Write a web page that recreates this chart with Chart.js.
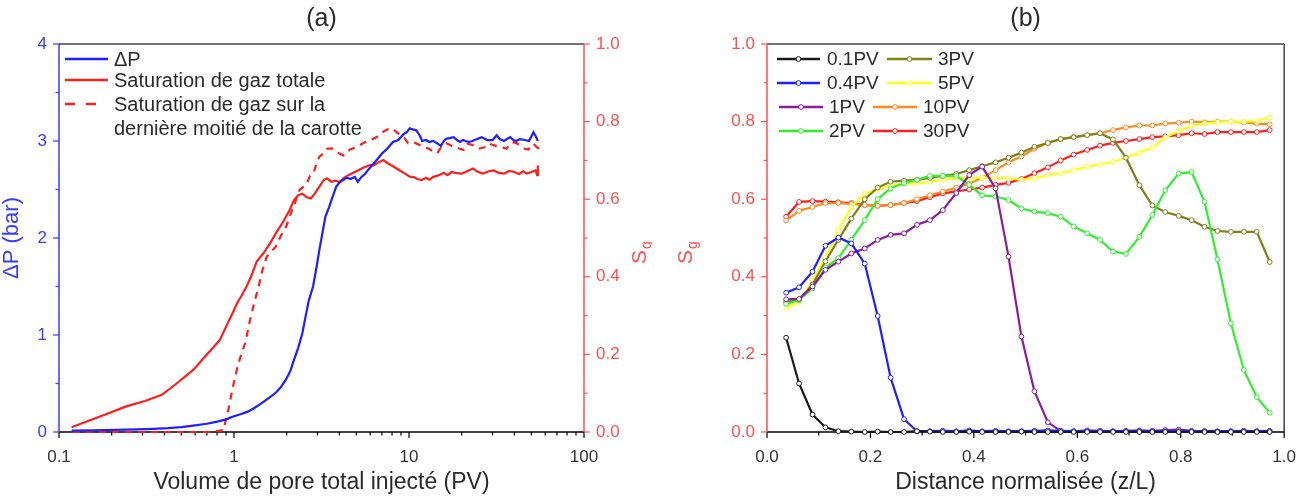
<!DOCTYPE html>
<html><head><meta charset="utf-8">
<script src="https://cdn.jsdelivr.net/npm/chart.js@4.4.1/dist/chart.umd.min.js"></script>
<style>
html,body{margin:0;padding:0;background:#fff;}
#wrap{position:relative;width:1305px;height:496px;overflow:hidden;background:#fff;}
#ca{position:absolute;left:0;top:0;}
#cb{position:absolute;left:652px;top:0;}
</style></head><body>
<div id="wrap"><canvas id="ca" width="652" height="496"></canvas><canvas id="cb" width="653" height="496"></canvas></div>
<script>
// ---------- Panel (a) data ----------
const dpX = [0.118,0.16,0.242,0.32,0.42,0.5,0.585,0.7,0.814,0.9,0.99,1.1,1.2,1.3,1.42,1.55,1.72,1.85,1.98,2.1,2.2,2.33,2.46,2.57,2.68,2.83,2.95,3.07,3.2,3.33,3.5,3.65,3.84,4.0,4.13,4.4,4.65,4.9,5.1,5.35,5.6,5.95,6.3,6.65,7.0,7.5,8.1,8.7,9.3,9.7,10.1,10.5,11.0,11.5,11.9,12.5,13.1,13.7,14.4,15.2,15.7,16.2,17.0,18.0,18.8,19.6,20.3,21.0,22.0,23.0,24.5,26.0,28.0,30.0,31.7,33.0,34.9,36.3,37.9,39.5,40.9,43.0,45.8,48.5,51.4,53.0,54.5];
const dpY = [0.014,0.018,0.024,0.03,0.04,0.05,0.065,0.085,0.11,0.13,0.16,0.185,0.21,0.245,0.29,0.34,0.40,0.46,0.54,0.63,0.74,0.87,1.02,1.2,1.36,1.5,1.68,1.87,2.05,2.22,2.32,2.42,2.53,2.57,2.59,2.62,2.61,2.63,2.58,2.63,2.66,2.72,2.77,2.82,2.87,2.92,2.99,3.01,3.07,3.09,3.13,3.12,3.11,3.06,3.0,3.01,2.99,3.0,2.98,2.95,2.99,3.02,3.03,3.04,3.01,2.99,3.01,3.0,2.99,3.0,3.02,3.04,3.01,3.01,3.06,3.02,3.0,3.02,3.04,3.01,3.0,3.02,3.01,3.0,3.09,3.05,3.0];

const sgTotX = [0.118,0.184,0.242,0.31,0.387,0.47,0.585,0.7,0.83,0.92,0.99,1.05,1.1,1.18,1.25,1.35,1.47,1.6,1.75,1.9,2.08,2.2,2.32,2.46,2.6,2.75,2.9,3.05,3.25,3.39,3.6,3.8,4.0,4.25,4.5,4.8,5.1,5.4,5.6,6.0,6.3,6.7,7.13,7.6,8.1,8.5,9.0,9.5,10.1,10.6,11.2,11.8,12.5,13.1,13.7,14.4,15.0,15.8,16.6,17.5,18.7,20.1,21.5,23.2,24.8,26.5,28.5,30.5,32.5,35.0,37.5,40.0,42.5,45.0,47.0,50.0,52.8,54.0,54.5];
const sgTotY = [0.012,0.045,0.066,0.08,0.096,0.125,0.16,0.2,0.237,0.28,0.31,0.335,0.35,0.375,0.4,0.44,0.46,0.485,0.515,0.54,0.572,0.597,0.61,0.614,0.605,0.602,0.615,0.63,0.649,0.654,0.645,0.648,0.644,0.655,0.662,0.668,0.674,0.68,0.683,0.688,0.687,0.695,0.701,0.692,0.685,0.679,0.672,0.666,0.658,0.657,0.652,0.649,0.655,0.65,0.657,0.66,0.663,0.668,0.662,0.67,0.667,0.666,0.672,0.679,0.67,0.666,0.672,0.674,0.668,0.666,0.673,0.67,0.665,0.672,0.666,0.67,0.674,0.662,0.687];

const sgHalfX = [0.12,0.25,0.5,0.75,0.87,0.93,0.99,1.05,1.1,1.16,1.23,1.3,1.38,1.46,1.54,1.63,1.73,1.85,1.99,2.11,2.23,2.37,2.46,2.6,2.72,2.85,2.95,3.07,3.24,3.4,3.63,3.9,4.22,4.6,5.04,5.5,6.0,6.58,7.0,7.6,8.0,8.5,8.9,9.4,9.9,10.6,11.5,12.2,13.0,13.8,14.5,15.3,16.4,17.5,18.5,19.5,20.5,21.5,23.0,25.0,27.7,28.8,31.0,34.0,36.0,39.0,41.4,44.0,45.8,48.0,51.4,53.5,54.8,55.0];
const sgHalfY = [0,0,0,0,0.005,0.06,0.12,0.17,0.2,0.23,0.285,0.33,0.374,0.42,0.452,0.465,0.477,0.505,0.53,0.563,0.59,0.624,0.63,0.64,0.66,0.667,0.69,0.709,0.718,0.73,0.731,0.72,0.713,0.728,0.735,0.745,0.752,0.761,0.772,0.781,0.783,0.773,0.765,0.758,0.744,0.747,0.74,0.734,0.73,0.722,0.718,0.735,0.744,0.738,0.734,0.73,0.727,0.743,0.74,0.73,0.735,0.743,0.738,0.734,0.73,0.747,0.744,0.735,0.73,0.728,0.743,0.735,0.731,0.722];

const aXTicks = [0.1, 1, 10, 100];
const aYTicks = [0, 1, 2, 3, 4];
const aY2Ticks = [0, 0.2, 0.4, 0.6, 0.8, 1.0];

// ---------- Panel (b) data ----------
const zPos = [0.037,0.062,0.088,0.113,0.138,0.163,0.189,0.214,0.239,0.265,0.290,0.315,0.340,0.366,0.391,0.416,0.442,0.467,0.492,0.517,0.543,0.568,0.593,0.619,0.644,0.669,0.694,0.720,0.745,0.770,0.796,0.821,0.846,0.871,0.897,0.922,0.947,0.972];
const pv01 = [0.243,0.125,0.045,0.012,0.002,0.001,0,0.001,0,0,0.002,0.001,0,0,0.001,0,0,0,0.001,0,0,0,0,0,0,0,0,0,0,0,0,0,0,0,0,0,0,0];
const pv04 = [0.359,0.373,0.413,0.48,0.501,0.486,0.434,0.299,0.14,0.033,0.002,0.002,0.003,0.002,0.004,0.002,0.003,0.002,0.002,0.003,0.004,0.003,0.002,0.002,0.002,0.002,0.002,0.002,0.002,0.002,0.002,0.002,0.002,0.002,0.002,0.002,0.002,0.002];
const pv1  = [0.342,0.343,0.375,0.418,0.439,0.46,0.473,0.495,0.508,0.512,0.534,0.546,0.572,0.616,0.662,0.684,0.628,0.452,0.246,0.105,0.025,0.003,0.002,0.004,0.003,0.002,0.003,0.004,0.003,0.005,0.006,0.003,0.002,0.001,0.002,0.003,0.002,0.003];
const pv2  = [0.33,0.34,0.37,0.423,0.448,0.495,0.546,0.6,0.628,0.641,0.65,0.66,0.66,0.66,0.637,0.61,0.607,0.598,0.576,0.568,0.564,0.555,0.53,0.512,0.495,0.465,0.459,0.503,0.559,0.623,0.666,0.67,0.593,0.445,0.28,0.16,0.09,0.05];
const pv3  = [0.335,0.34,0.38,0.44,0.495,0.55,0.6,0.63,0.645,0.648,0.65,0.655,0.66,0.665,0.675,0.685,0.695,0.707,0.72,0.735,0.745,0.755,0.76,0.765,0.77,0.754,0.707,0.636,0.584,0.567,0.557,0.546,0.529,0.518,0.516,0.516,0.516,0.438];
const pv5  = [0.32,0.335,0.39,0.45,0.52,0.58,0.615,0.625,0.635,0.64,0.64,0.645,0.65,0.655,0.655,0.655,0.655,0.654,0.65,0.654,0.662,0.667,0.675,0.684,0.69,0.696,0.707,0.72,0.733,0.759,0.776,0.789,0.795,0.798,0.8,0.8,0.802,0.81];
const pv10 = [0.545,0.57,0.58,0.59,0.59,0.588,0.585,0.583,0.585,0.59,0.6,0.61,0.62,0.63,0.64,0.655,0.675,0.695,0.71,0.73,0.745,0.755,0.76,0.765,0.77,0.778,0.785,0.79,0.79,0.795,0.797,0.8,0.798,0.8,0.8,0.798,0.795,0.793];
const pv30 = [0.555,0.593,0.595,0.594,0.592,0.59,0.585,0.583,0.585,0.59,0.595,0.605,0.615,0.62,0.625,0.63,0.637,0.642,0.652,0.667,0.682,0.70,0.715,0.727,0.738,0.745,0.75,0.755,0.76,0.762,0.765,0.77,0.768,0.773,0.773,0.773,0.773,0.778];
const bLabels = ['0.1PV','0.4PV','1PV','2PV','3PV','5PV','10PV','30PV'];
const bTicks = [0, 0.2, 0.4, 0.6, 0.8, 1.0];

// ---------- styling ----------
const FONT = '"Liberation Sans", Arial, Helvetica, sans-serif';
Chart.defaults.font.family = FONT;
const BLUE = '#1e1eff', RED = '#ff1e1e', AXRED = '#ff5050', AXBLUE = '#3a3aff', TXT = '#2a2a2a';
const bColors = ['#1a1a1a','#1f1fff','#8b1c9c','#2ef02e','#80801a','#ffff1a','#ff8a1f','#ff1e1e'];
const bSeries = [pv01, pv04, pv1, pv2, pv3, pv5, pv10, pv30];

function pts(xs, ys){ return xs.map((x,i)=>({x:x, y:ys[i]})); }
function line(ctx, x1,y1,x2,y2,color,w){ ctx.save(); ctx.strokeStyle=color; ctx.lineWidth=w; ctx.beginPath(); ctx.moveTo(x1,y1); ctx.lineTo(x2,y2); ctx.stroke(); ctx.restore(); }
function text(ctx, s, x, y, font, color, align, base){ ctx.save(); ctx.font=font; ctx.fillStyle=color; ctx.textAlign=align||'left'; ctx.textBaseline=base||'middle'; ctx.fillText(s,x,y); ctx.restore(); }
function rotText(ctx, s, cx, cy, font, color){ ctx.save(); ctx.translate(cx,cy); ctx.rotate(-Math.PI/2); ctx.font=font; ctx.fillStyle=color; ctx.textAlign='center'; ctx.textBaseline='middle'; ctx.fillText(s,0,0); ctx.restore(); }
function sgTitle(ctx, baseX, bottomY, color){
  ctx.save(); ctx.translate(baseX, bottomY); ctx.rotate(-Math.PI/2);
  ctx.fillStyle=color; ctx.textBaseline='alphabetic'; ctx.textAlign='left';
  ctx.font='21px '+FONT; ctx.fillText('S',0,0);
  const w = ctx.measureText('S').width;
  ctx.font='14px '+FONT; ctx.fillText('g', w+1, 5);
  ctx.restore();
}

const noGrid = {display:false, drawTicks:true, tickLength:6};

// ---------- Chart (a) ----------
const frameA = {
  id:'frameA',
  beforeDatasetsDraw(chart){
    const ctx=chart.ctx, ca=chart.chartArea, sx=chart.scales.x, sy=chart.scales.y, sy2=chart.scales.y2;
    line(ctx, ca.left, ca.top, ca.right, ca.top, '#444', 1.5);
    line(ctx, ca.left, ca.bottom, ca.right, ca.bottom, '#000', 1.5);
    line(ctx, ca.left, ca.top, ca.left, ca.bottom, AXBLUE, 1.5);
    line(ctx, ca.right, ca.top, ca.right, ca.bottom, AXRED, 1.5);
    [0.1,1,10].forEach(d=>{ for(let k=1;k<=9;k++){ const px=sx.getPixelForValue(d*k); line(ctx,px,ca.bottom,px,ca.bottom+(k===1?6:3.5),'#000',1.2);} });
    const p100=sx.getPixelForValue(100); line(ctx,p100,ca.bottom,p100,ca.bottom+6,'#000',1.2);
    for(let i=0;i<=8;i++){ const v=i*0.5, py=sy.getPixelForValue(v); line(ctx,ca.left-(i%2===0?6:3.5),py,ca.left,py,AXBLUE,1.2); }
    for(let i=0;i<=10;i++){ const v=i*0.1, py=sy2.getPixelForValue(v); line(ctx,ca.right,py,ca.right+(i%2===0?6:3.5),py,AXRED,1.2); }
  },
  afterDraw(chart){
    const ctx=chart.ctx, ca=chart.chartArea;
    const cx=(ca.left+ca.right)/2;
    text(ctx,'(a)',cx,19,'25px '+FONT,TXT,'center');
    text(ctx,'Volume de pore total injecté (PV)',cx,483,'23px '+FONT,TXT,'center');
    rotText(ctx,'ΔP (bar)',12,238,'22px '+FONT,AXBLUE);
    sgTitle(ctx,646,264,AXRED);
    // legend
    const f='20px '+FONT;
    line(ctx,65,59,108,59,BLUE,2.5); text(ctx,'ΔP',114,60,f,TXT);
    line(ctx,65,80,108,80,RED,2.5); text(ctx,'Saturation de gaz totale',114,81,f,TXT);
    line(ctx,65,104,75,104,RED,2.5); line(ctx,86,104,96,104,RED,2.5);
    text(ctx,'Saturation de gaz sur la',114,105,f,TXT);
    text(ctx,'dernière moitié de la carotte',114,129,f,TXT);
  }
};

new Chart(document.getElementById('ca'), {
  type:'line',
  data:{ datasets:[
    {label:'ΔP', data:pts(dpX,dpY), yAxisID:'y', borderColor:BLUE, borderWidth:2.2, pointRadius:0, tension:0, fill:false, clip:false},
    {label:'Saturation de gaz totale', data:pts(sgTotX,sgTotY), yAxisID:'y2', borderColor:RED, borderWidth:2.2, pointRadius:0, tension:0, fill:false, clip:false},
    {label:'Saturation de gaz sur la dernière moitié de la carotte', data:pts(sgHalfX,sgHalfY), yAxisID:'y2', borderColor:RED, borderWidth:2.2, borderDash:[7,6], pointRadius:0, tension:0, fill:false, clip:false}
  ]},
  options:{
    responsive:false, animation:false, events:[],
    layout:{padding:{top:44,left:0,right:0,bottom:0}},
    plugins:{legend:{display:false}, title:{display:false}, tooltip:{enabled:false}},
    scales:{
      x:{type:'logarithmic', min:0.1, max:100, grid:noGrid, border:{display:false},
         afterBuildTicks:s=>{ s.ticks=aXTicks.map(v=>({value:v})); },
         afterFit:s=>{ s.height=64; },
         ticks:{autoSkip:false, maxRotation:0, padding:9, color:'#333', font:{size:17}, callback:v=>String(v)}},
      y:{type:'linear', position:'left', min:0, max:4, grid:noGrid, border:{display:false},
         afterBuildTicks:s=>{ s.ticks=aYTicks.map(v=>({value:v})); },
         afterFit:s=>{ s.width=59; },
         ticks:{padding:6, color:AXBLUE, font:{size:17}, callback:v=>String(v)}},
      y2:{type:'linear', position:'right', min:0, max:1, grid:noGrid, border:{display:false},
         afterBuildTicks:s=>{ s.ticks=aY2Ticks.map(v=>({value:v})); },
         afterFit:s=>{ s.width=68; },
         ticks:{padding:6, color:AXRED, font:{size:17}, callback:v=>Number(v).toFixed(1)}}
    }
  },
  plugins:[frameA]
});

// ---------- Chart (b) ----------
const OFF = 652;
const frameB = {
  id:'frameB',
  beforeDatasetsDraw(chart){
    const ctx=chart.ctx, ca=chart.chartArea, sx=chart.scales.x, sy=chart.scales.y;
    line(ctx, ca.left, ca.top, ca.right, ca.top, '#444', 1.5);
    line(ctx, ca.right, ca.top, ca.right, ca.bottom, '#444', 1.5);
    line(ctx, ca.left, ca.bottom, ca.right, ca.bottom, '#000', 1.5);
    line(ctx, ca.left, ca.top, ca.left, ca.bottom, AXRED, 1.5);
    for(let i=0;i<=10;i++){ const v=i*0.1, px=sx.getPixelForValue(v); line(ctx,px,ca.bottom,px,ca.bottom+(i%2===0?6:3.5),'#000',1.2); }
    for(let i=0;i<=10;i++){ const v=i*0.1, py=sy.getPixelForValue(v); line(ctx,ca.left-(i%2===0?6:3.5),py,ca.left,py,AXRED,1.2); }
  },
  afterDraw(chart){
    const ctx=chart.ctx, ca=chart.chartArea;
    const cx=(ca.left+ca.right)/2;
    text(ctx,'(b)',cx,19,'25px '+FONT,TXT,'center');
    text(ctx,'Distance normalisée (z/L)',cx,483,'23px '+FONT,TXT,'center');
    sgTitle(ctx,692-OFF,264,AXRED);
    // legend (two columns)
    const f='19px '+FONT;
    const rows=[59,83,107,131];
    const col1=[[777,820,827],[777,820,827],[779,823,829],[779,823,829]];
    const col2=[[887,932,938],[887,932,938],[873,917,923],[873,917,923]];
    const entry=(i,spec,y)=>{
      const x1=spec[0]-OFF, x2=spec[1]-OFF, tx=spec[2]-OFF;
      line(ctx,x1,y,x2,y,bColors[i],2.5);
      ctx.save(); ctx.beginPath(); ctx.arc((x1+x2)/2,y,2.4,0,Math.PI*2); ctx.fillStyle='#fff'; ctx.fill(); ctx.lineWidth=1; ctx.strokeStyle=bColors[i]; ctx.stroke(); ctx.restore();
      text(ctx,bLabels[i],tx,y+1,f,TXT);
    };
    for(let r=0;r<4;r++){ entry(r,col1[r],rows[r]); entry(r+4,col2[r],rows[r]); }
  }
};

new Chart(document.getElementById('cb'), {
  type:'line',
  data:{ datasets: bSeries.map((s,i)=>({
    label:bLabels[i], data:pts(zPos,s), borderColor:bColors[i], borderWidth:2.2,
    pointRadius:2.4, pointBorderWidth:1, pointBackgroundColor:'#fff', pointBorderColor:bColors[i],
    tension:0, fill:false, clip:false
  }))},
  options:{
    responsive:false, animation:false, events:[],
    layout:{padding:{top:44,left:0,right:16,bottom:0}},
    plugins:{legend:{display:false}, title:{display:false}, tooltip:{enabled:false}},
    scales:{
      x:{type:'linear', min:0, max:1, grid:noGrid, border:{display:false},
         afterBuildTicks:s=>{ s.ticks=bTicks.map(v=>({value:v})); },
         afterFit:s=>{ s.height=64; },
         ticks:{autoSkip:false, maxRotation:0, padding:9, color:'#333', font:{size:17}, callback:v=>Number(v).toFixed(1)}},
      y:{type:'linear', position:'left', min:0, max:1, grid:noGrid, border:{display:false},
         afterBuildTicks:s=>{ s.ticks=bTicks.map(v=>({value:v})); },
         afterFit:s=>{ s.width=115; },
         ticks:{padding:6, color:AXRED, font:{size:17}, callback:v=>Number(v).toFixed(1)}}
    }
  },
  plugins:[frameB]
});
</script>
</body></html>
